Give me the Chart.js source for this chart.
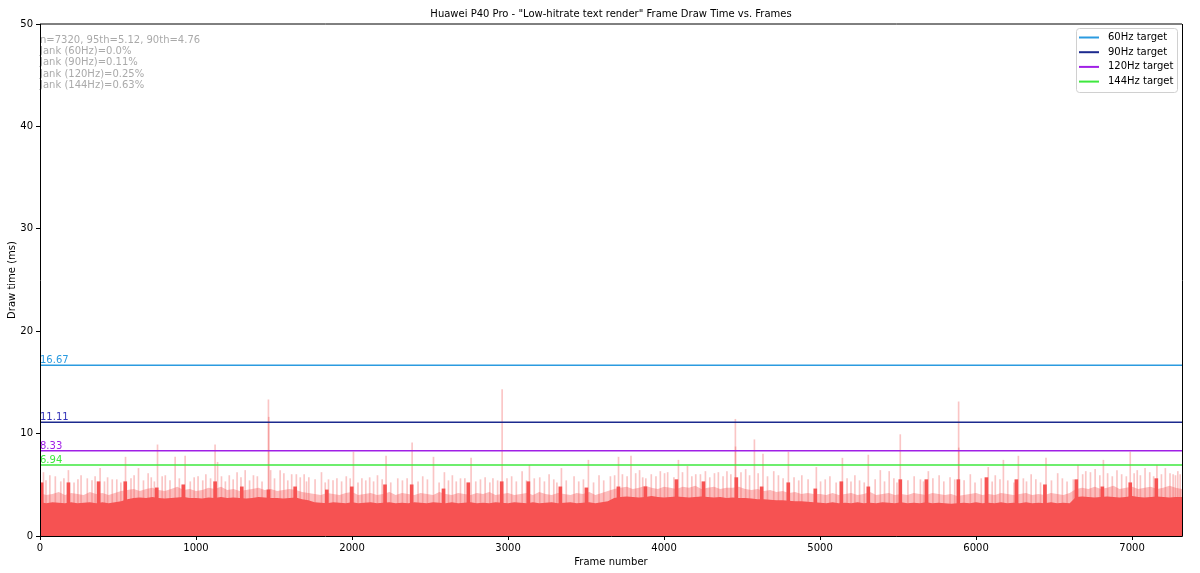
<!DOCTYPE html>
<html>
<head>
<meta charset="utf-8">
<script src="https://cdn.jsdelivr.net/npm/chart.js@4.4.1/dist/chart.umd.min.js"></script>
<style>
  html, body { margin: 0; padding: 0; background: #fff; }
  #wrap { width: 1200px; height: 573px; }
</style>
</head>
<body>
<div id="wrap"><canvas id="frameChart" width="1200" height="573"></canvas></div>
<script>
// frame count and block size for the base level readings
const frameCount = 7320;
const blockStep = 40;
const xTickValues = [0, 1000, 2000, 3000, 4000, 5000, 6000, 7000];
const yTickValues = [0, 10, 20, 30, 40, 50];

// solid level of the draw-time fill, one value every 40 frames (0..7320)
const baseLevel = [
  3.3, 3.2, 3.3, 3.25, 3.2, 3.3, 3.2, 3.25, 3.3, 3.2, 3.3, 3.2, 3.3, 3.4,
  3.6, 3.7, 3.75, 3.7, 3.8, 3.7, 3.65, 3.7, 3.75, 3.8, 3.7, 3.7, 3.65, 3.75, 3.7,
  3.8, 3.7, 3.75, 3.7, 3.65, 3.7, 3.8, 3.75, 3.7, 3.7, 3.65, 3.7, 3.75, 3.6, 3.5,
  3.3, 3.25, 3.2, 3.3, 3.25, 3.2, 3.3, 3.2, 3.25, 3.3, 3.2, 3.25, 3.3, 3.2, 3.25, 3.2,
  3.3, 3.25, 3.2, 3.3, 3.25, 3.2, 3.3, 3.2, 3.25, 3.3, 3.2, 3.25, 3.2, 3.3, 3.25, 3.2,
  3.3, 3.25, 3.2, 3.3, 3.2, 3.25, 3.3, 3.2, 3.25, 3.3, 3.2, 3.25, 3.3, 3.2, 3.3, 3.4,
  3.7, 3.8, 3.85, 3.8, 3.75, 3.8, 3.9, 3.8, 3.75, 3.8, 3.85, 3.8, 3.75, 3.8, 3.85, 3.8, 3.75, 3.8, 3.7,
  3.75, 3.7, 3.7, 3.65, 3.6, 3.6, 3.55, 3.5, 3.5, 3.45, 3.4, 3.4, 3.35, 3.3,
  3.25, 3.2, 3.3, 3.2, 3.25, 3.2, 3.3, 3.2, 3.25, 3.2, 3.3, 3.25, 3.2, 3.3, 3.2, 3.25,
  3.2, 3.3, 3.2, 3.25, 3.2, 3.15, 3.2, 3.25, 3.2, 3.3, 3.2, 3.25, 3.2, 3.3, 3.2, 3.25,
  3.2, 3.3, 3.2, 3.25, 3.2, 3.3, 3.2, 3.25, 3.2,
  3.8, 3.85, 3.8, 3.75, 3.8, 3.85, 3.8, 3.75, 3.8, 3.9, 3.8, 3.75, 3.8, 3.85, 3.8, 3.75, 3.8, 3.8
];

// upper edge of the light jitter above the solid fill, same 40-frame blocks
const jitterLevel = [
  4.2, 4.0, 4.1, 4.3, 4.0, 4.2, 4.1, 4.0, 4.3, 4.1, 4.2, 4.0, 4.2, 4.4,
  4.5, 4.6, 4.4, 4.6, 4.7, 4.5, 4.4, 4.6, 4.8, 4.5, 4.6, 4.4, 4.5, 4.7, 4.6,
  4.8, 4.5, 4.6, 4.4, 4.5, 4.6, 4.7, 4.5, 4.6, 4.4, 4.5, 4.6, 4.5, 4.3, 4.2,
  4.1, 4.0, 4.2, 4.1, 4.0, 4.2, 4.3, 4.0, 4.1, 4.2, 4.0, 4.1, 4.3, 4.0, 4.2, 4.1,
  4.0, 4.2, 4.1, 4.0, 4.3, 4.1, 4.0, 4.2, 4.1, 4.0, 4.2, 4.1, 4.3, 4.0, 4.1, 4.2,
  4.0, 4.1, 4.2, 4.0, 4.3, 4.1, 4.0, 4.2, 4.1, 4.0, 4.2, 4.1, 4.3, 4.0, 4.2, 4.4,
  4.6, 4.7, 4.8, 4.6, 4.7, 4.9, 4.7, 4.6, 4.8, 4.7, 4.6, 4.8, 4.7, 4.9, 4.6, 4.7, 4.8, 4.6, 4.7,
  4.7, 4.8, 4.6, 4.5, 4.6, 4.4, 4.5, 4.3, 4.4, 4.2, 4.3, 4.1, 4.2, 4.1,
  4.1, 4.0, 4.2, 4.0, 4.1, 4.2, 4.0, 4.1, 4.3, 4.0, 4.1, 4.2, 4.0, 4.1, 4.0, 4.2,
  4.1, 4.0, 4.2, 4.1, 4.0, 4.1, 3.9, 4.0, 4.1, 4.2, 4.0, 4.1, 4.0, 4.2, 4.1, 4.0,
  4.1, 4.2, 4.0, 4.1, 4.0, 4.2, 4.1, 4.0, 4.2,
  4.6, 4.7, 4.6, 4.8, 4.6, 4.7, 4.9, 4.6, 4.7, 4.8, 4.6, 4.7, 4.8, 4.6, 4.7, 4.9, 4.7, 4.6
];

// short bursts where the solid fill rises
const burstFrames = [20, 192, 385, 556, 758, 928, 1132, 1303, 1474, 1645, 1848, 2008, 2221, 2392,
  2596, 2755, 2969, 3140, 3345, 3512, 3717, 3890, 4089, 4262, 4473, 4635, 4806, 4979, 5146, 5319,
  5524, 5691, 5896, 6076, 6268, 6451, 6652, 6819, 6998, 7165];
const burstHeights = [5.2, 5.2, 5.3, 5.3, 4.7, 5.0, 5.3, 4.8, 4.5, 4.8, 4.5, 4.8, 5.0, 5.0,
  4.6, 5.2, 5.3, 5.3, 4.8, 4.7, 4.8, 4.8, 5.5, 5.3, 5.7, 4.8, 5.2, 4.6, 5.3, 4.8,
  5.5, 5.5, 5.5, 5.7, 5.5, 5.0, 5.5, 4.8, 5.2, 5.6];

// single-frame spikes that stand out (thin pink lines)
const spikeFrames = [19, 95, 179, 260, 300, 382, 430, 489, 545, 628, 690, 750, 800, 863, 927, 1010,
  1060, 1119, 1135, 1210, 1260, 1312, 1390, 1461, 1463, 1475, 1536, 1560, 1610, 1640, 1690, 1720,
  1801, 1846, 1900, 1960, 2006, 2060, 2110, 2160, 2215, 2290, 2382, 2450, 2519, 2589, 2640, 2692,
  2760, 2850, 2900, 2959, 3020, 3087, 3134, 3200, 3260, 3339, 3420, 3512, 3580, 3653, 3705, 3785,
  3840, 3880, 3973, 4020, 4089, 4147, 4200, 4262, 4345, 4400, 4454, 4455, 4520, 4576, 4631, 4700,
  4794, 4880, 4973, 5060, 5140, 5220, 5306, 5383, 5440, 5511, 5600, 5691, 5760, 5830, 5885, 5886,
  5960, 6075, 6120, 6172, 6268, 6350, 6445, 6520, 6650, 6700, 6760, 6813, 6900, 6985, 7030, 7080,
  7156, 7210, 7260, 7290];
const spikeHeights = [6.2, 5.8, 6.4, 5.9, 5.6, 6.6, 5.7, 5.5, 7.7, 6.6, 6.1, 8.9, 5.9, 7.7, 7.8, 5.8,
  6.0, 8.9, 7.2, 5.9, 6.2, 6.4, 5.8, 13.3, 11.6, 6.4, 6.4, 6.1, 6.0, 6.0, 6.0, 5.7,
  6.2, 5.5, 5.6, 5.8, 8.2, 5.6, 5.7, 5.9, 7.8, 5.6, 9.1, 5.8, 7.7, 6.2, 5.9, 5.6,
  7.6, 5.7, 5.6, 14.3, 5.8, 6.3, 6.9, 5.7, 6.0, 6.6, 5.8, 7.4, 5.9, 5.8, 7.7, 7.8,
  6.4, 5.6, 6.3, 6.2, 7.4, 6.8, 6.0, 6.3, 6.2, 6.3, 11.4, 8.7, 6.5, 9.4, 8.0, 6.3,
  8.2, 5.9, 6.7, 5.8, 7.6, 5.9, 7.9, 6.4, 6.3, 9.9, 5.8, 6.3, 5.9, 5.7, 13.1, 8.6,
  6.0, 6.7, 5.9, 7.4, 7.8, 6.0, 7.6, 6.1, 6.9, 6.3, 6.5, 7.4, 6.4, 8.2, 6.4, 6.6,
  6.9, 6.6, 6.0, 6.3];

// smaller spikes that make up the fuzzy top edge
const minorFrames = [35, 60, 130, 150, 215, 240, 330, 350, 410, 460, 515, 580, 600, 660, 710, 730,
  780, 830, 890, 960, 985, 1040, 1090, 1160, 1185, 1235, 1285, 1340, 1365, 1420, 1500, 1585, 1665,
  1705, 1760, 1825, 1875, 1930, 1985, 2035, 2085, 2135, 2190, 2245, 2320, 2350, 2420, 2480, 2555,
  2615, 2665, 2720, 2790, 2820, 2880, 2930, 2990, 3050, 3115, 3165, 3230, 3290, 3310, 3370, 3450,
  3480, 3545, 3610, 3680, 3730, 3760, 3815, 3860, 3915, 3945, 4000, 4060, 4115, 4175, 4230, 4290,
  4320, 4375, 4425, 4490, 4545, 4600, 4660, 4730, 4760, 4830, 4860, 4920, 5000, 5030, 5100, 5170,
  5195, 5250, 5280, 5350, 5410, 5470, 5490, 5560, 5640, 5660, 5720, 5790, 5860, 5920, 5990, 6030,
  6100, 6150, 6200, 6240, 6300, 6320, 6380, 6410, 6480, 6550, 6580, 6620, 6680, 6730, 6790, 6840,
  6870, 6930, 6960, 7010, 7050, 7110, 7135, 7185, 7240, 7275, 7305];
const minorHeights = [5.4, 5.9, 5.3, 5.6, 5.2, 5.5, 5.4, 5.8, 5.3, 5.5, 5.2, 5.6, 5.9, 5.4, 5.7, 5.3,
  5.8, 5.4, 5.6, 5.3, 5.7, 5.4, 5.6, 5.8, 5.3, 5.5, 5.7, 5.4, 5.9, 5.3, 5.6, 5.4, 5.7,
  5.3, 5.5, 5.2, 5.4, 5.3, 5.6, 5.2, 5.4, 5.3, 5.5, 5.2, 5.4, 5.6, 5.3, 5.5, 5.2,
  5.4, 5.3, 5.6, 5.3, 5.5, 5.2, 5.4, 5.6, 5.3, 5.4, 5.6, 5.3, 5.5, 5.2, 5.4, 5.3,
  5.5, 5.2, 5.4, 5.9, 6.0, 5.8, 6.1, 5.7, 6.0, 5.8, 6.1, 5.7, 6.2, 5.8, 6.0, 5.7,
  6.1, 5.8, 6.0, 6.2, 5.9, 6.1, 5.8, 5.9, 5.6, 5.7, 5.4, 5.5, 5.3, 5.5, 5.2, 5.6,
  5.3, 5.4, 5.2, 5.5, 5.3, 5.6, 5.2, 5.4, 5.5, 5.3, 5.6, 5.3, 5.5, 5.4, 5.2, 5.6,
  5.3, 5.5, 5.4, 5.2, 5.6, 5.3, 5.5, 5.2, 5.4, 5.6, 5.3, 5.5, 6.0, 6.2, 5.9, 6.1,
  5.8, 6.0, 5.8, 6.1, 5.9, 6.2, 5.8, 6.0, 6.1, 5.9, 6.0];

// target frame times
const targetLabels = ['60Hz target', '90Hz target', '120Hz target', '144Hz target'];
const targetValues = [16.67, 11.11, 8.33, 6.94];
const targetColors = ['#2b9be0', '#1c2a8e', '#a020e6', '#3ee83e'];
const targetTextColors = ['#2b9be0', '#3333b8', '#a020e6', '#3ee83e'];

const statLines = [
  'n=7320, 95th=5.12, 90th=4.76',
  'Jank (60Hz)=0.0%',
  'Jank (90Hz)=0.11%',
  'Jank (120Hz)=0.25%',
  'Jank (144Hz)=0.63%'
];

const chartTitle = 'Huawei P40 Pro - "Low-hitrate text render" Frame Draw Time vs. Frames';
const FONT = '"DejaVu Sans", sans-serif';

// build the point lists
const basePoints = baseLevel.map((v, i) => ({ x: i * blockStep, y: v }));
const burstPoints = burstFrames.map((f, i) => ({ x: f, y: burstHeights[i] }));
const jitterPoints = jitterLevel.map((v, i) => ({ x: i * blockStep, y: v }));
const spikePoints = spikeFrames.map((f, i) => ({ x: f, y: spikeHeights[i] }))
  .concat(minorFrames.map((f, i) => ({ x: f, y: minorHeights[i] })));

const targetSets = targetValues.map((v, i) => ({
  type: 'line',
  label: targetLabels[i],
  data: [{ x: 0, y: v }, { x: frameCount, y: v }],
  borderColor: targetColors[i],
  borderWidth: 1.5,
  pointRadius: 0,
  fill: false,
  order: 1
}));

// title, labels, legend box, frame
const overlayPlugin = {
  id: 'overlay',
  afterDatasetsDraw(chart) {
    const { ctx, chartArea: a } = chart;
    const y = chart.scales.y;
    ctx.save();
    ctx.font = '10px ' + FONT;

    // value labels above each target line
    ctx.textAlign = 'left';
    ctx.textBaseline = 'alphabetic';
    targetValues.forEach((v, i) => {
      ctx.fillStyle = targetTextColors[i];
      ctx.fillText(v.toFixed(2), a.left, y.getPixelForValue(v) - 2);
    });

    // stats text top left
    ctx.fillStyle = '#aaaaaa';
    ctx.textBaseline = 'middle';
    statLines.forEach((t, i) => ctx.fillText(t, a.left, a.top + 16 + i * 11.4));

    // legend box top right
    const bw = 101, bh = 64;
    const bx = a.right - 5 - bw, by = a.top + 4;
    ctx.fillStyle = 'rgba(255,255,255,0.8)';
    ctx.strokeStyle = '#d0d0d0';
    ctx.lineWidth = 1;
    ctx.beginPath();
    ctx.roundRect(bx + 0.5, by + 0.5, bw, bh, 3);
    ctx.fill();
    ctx.stroke();
    targetLabels.forEach((t, i) => {
      const ly = by + 9.5 + i * 14.7;
      ctx.strokeStyle = targetColors[i];
      ctx.lineWidth = 2;
      ctx.beginPath();
      ctx.moveTo(bx + 3, ly);
      ctx.lineTo(bx + 23, ly);
      ctx.stroke();
      ctx.fillStyle = '#000';
      ctx.fillText(t, bx + 32, ly);
    });
    ctx.restore();
  },
  afterDraw(chart) {
    const { ctx, chartArea: a } = chart;
    ctx.save();
    ctx.strokeStyle = '#000';
    ctx.lineWidth = 1;
    ctx.beginPath();
    ctx.moveTo(a.left + 0.5, a.bottom + 0.5);
    ctx.lineTo(a.left + 0.5, a.top);
    ctx.moveTo(a.left, a.top);
    ctx.lineTo(a.right, a.top);
    ctx.moveTo(a.right + 0.5, a.top);
    ctx.lineTo(a.right + 0.5, a.bottom + 0.5);
    ctx.lineTo(a.left, a.bottom + 0.5);
    ctx.stroke();

    ctx.fillStyle = '#000';
    ctx.font = '10px ' + FONT;
    ctx.textAlign = 'center';
    ctx.textBaseline = 'middle';
    ctx.fillText(chartTitle, (a.left + a.right) / 2, 14);
    ctx.restore();
  }
};

const tickFont = { family: FONT, size: 10 };

const ctx = document.getElementById('frameChart').getContext('2d');
const frameChart = new Chart(ctx, {
  type: 'bar',
  data: {
    datasets: [
      ...targetSets,
      {
        type: 'line',
        label: 'draw time',
        data: basePoints,
        backgroundColor: 'rgb(246,82,82)',
        borderWidth: 0,
        pointRadius: 0,
        tension: 0,
        fill: 'origin',
        order: 3
      },
      {
        type: 'bar',
        label: 'bursts',
        data: burstPoints,
        backgroundColor: 'rgb(246,82,82)',
        barThickness: 3,
        order: 3
      },
      {
        type: 'bar',
        label: 'spikes',
        data: spikePoints,
        backgroundColor: 'rgba(240,90,90,0.35)',
        barThickness: 1,
        order: 4
      },
      {
        type: 'line',
        label: 'jitter',
        data: jitterPoints,
        backgroundColor: 'rgba(246,82,82,0.38)',
        borderWidth: 0,
        pointRadius: 0,
        tension: 0,
        fill: 'origin',
        order: 5
      }
    ]
  },
  options: {
    responsive: false,
    animation: false,
    devicePixelRatio: 1,
    layout: { padding: { top: 24, right: 18, left: 0, bottom: 0 } },
    plugins: {
      legend: { display: false },
      title: { display: false },
      tooltip: { enabled: false }
    },
    scales: {
      x: {
        type: 'linear',
        min: 0,
        max: frameCount,
        offset: false,
        afterBuildTicks: s => { s.ticks = xTickValues.map(v => ({ value: v })); },
        afterFit: s => { s.height = 37; },
        ticks: { color: '#000', font: tickFont, padding: 2, maxRotation: 0, autoSkip: false,
          callback: v => String(v) },
        grid: { offset: false, drawOnChartArea: false, drawTicks: true, tickLength: 4, tickColor: '#000' },
        border: { display: false },
        title: { display: true, text: 'Frame number', color: '#000', font: tickFont,
          padding: { top: 0, bottom: 5 } }
      },
      y: {
        min: 0,
        max: 50,
        afterBuildTicks: s => { s.ticks = yTickValues.map(v => ({ value: v })); },
        afterFit: s => { s.width = 40; },
        ticks: { color: '#000', font: tickFont, padding: 3, callback: v => String(v) },
        grid: { drawOnChartArea: false, drawTicks: true, tickLength: 4, tickColor: '#000' },
        border: { display: false },
        title: { display: true, text: 'Draw time (ms)', color: '#000', font: tickFont,
          padding: { top: 6, bottom: 0 } }
      }
    }
  },
  plugins: [overlayPlugin]
});
</script>
</body>
</html>
